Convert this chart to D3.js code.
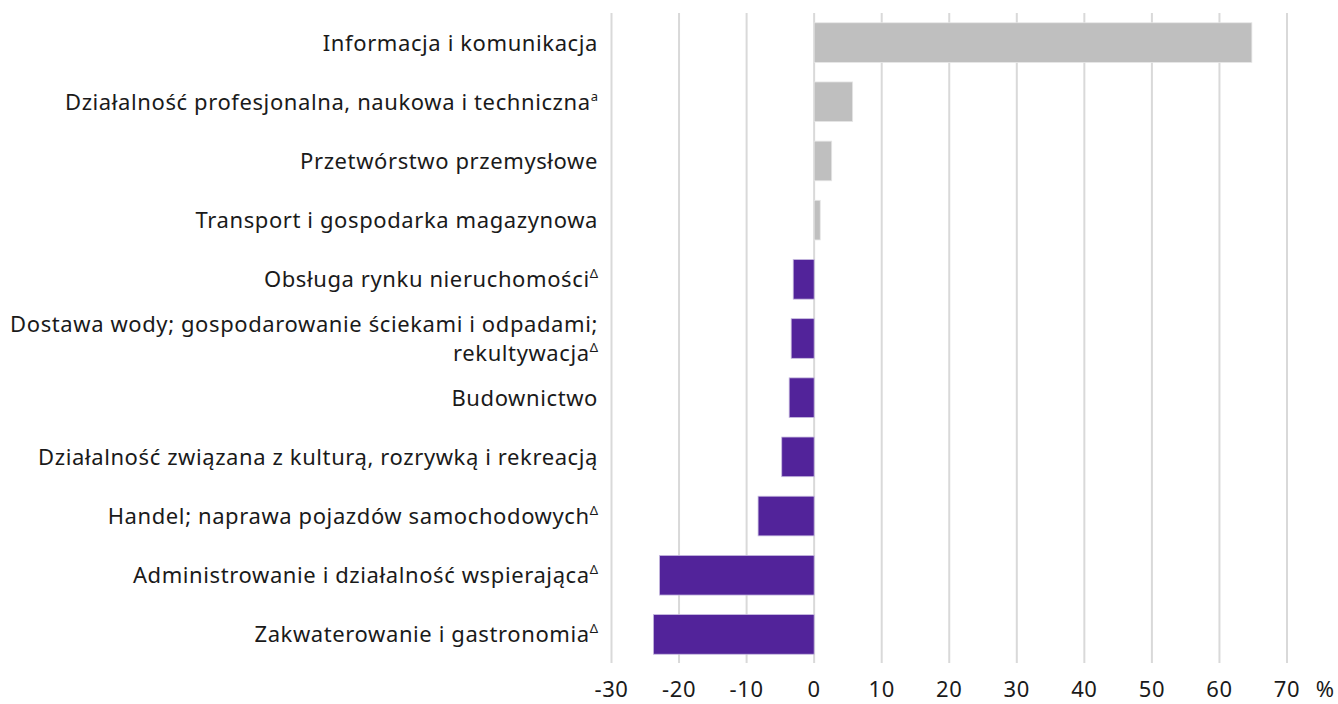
<!DOCTYPE html>
<html><head><meta charset="utf-8">
<script src="https://cdn.jsdelivr.net/npm/d3@7"></script>
<style>body{margin:0;background:#fff}text{font-family:"Noto Sans",sans-serif;fill:#1a1a1a}</style>
</head><body><svg id="c" width="1338" height="704"></svg>
<script>
const categories = [
  ["Informacja i komunikacja"],
  ["Działalność profesjonalna, naukowa i techniczna"],
  ["Przetwórstwo przemysłowe"],
  ["Transport i gospodarka magazynowa"],
  ["Obsługa rynku nieruchomości"],
  ["Dostawa wody; gospodarowanie ściekami i odpadami;", "rekultywacja"],
  ["Budownictwo"],
  ["Działalność związana z kulturą, rozrywką i rekreacją"],
  ["Handel; naprawa pojazdów samochodowych"],
  ["Administrowanie i działalność wspierająca"],
  ["Zakwaterowanie i gastronomia"]
];
const superscripts = ["", "a", "", "", "Δ", "Δ", "", "", "Δ", "Δ", "Δ"];
const values = [64.8, 5.7, 2.6, 0.9, -3.1, -3.4, -3.7, -4.8, -8.3, -22.9, -23.8];
const ticks = [-30, -20, -10, 0, 10, 20, 30, 40, 50, 60, 70];

const svg = d3.select("#c");
const x = d3.scaleLinear().domain([-30, 70]).range([611.5, 1287]);
const y = d3.scaleBand().domain(d3.range(categories.length)).range([13, 664]).paddingInner(0.33).paddingOuter(0.165);

svg.append("g").selectAll("line").data(ticks).join("line")
  .attr("x1", d => x(d)).attr("x2", d => x(d))
  .attr("y1", 13).attr("y2", 663)
  .attr("stroke", "#d9d9d9").attr("stroke-width", 2);

svg.append("g").selectAll("rect").data(values).join("rect")
  .attr("x", d => x(Math.min(0, d)))
  .attr("width", d => Math.abs(x(d) - x(0)))
  .attr("y", (d, i) => y(i))
  .attr("height", y.bandwidth())
  .attr("fill", d => d >= 0 ? "#bfbfbf" : "#52239a")
  .attr("stroke", d => d >= 0 ? "#e6e6e6" : "#c8bce0").attr("stroke-width", 0.8);

const fs = 22;
const lab = svg.append("g").selectAll("text").data(categories).join("text")
  .attr("text-anchor", "end").attr("font-size", fs).attr("letter-spacing", 0.6)
  .attr("x", 598)
  .attr("y", (d, i) => y(i) + y.bandwidth() / 2 + 8 - (d.length - 1) * 14.5);
lab.each(function(d, i) {
  const t = d3.select(this);
  d.forEach((line, k) => {
    t.append("tspan").attr("x", 598).attr("dy", k === 0 ? 0 : 29).text(line);
  });
  if (superscripts[i]) {
    t.append("tspan").attr("font-size", 13).attr("dy", -9).attr("letter-spacing", 0).text(superscripts[i]);
  }
});

const ax = svg.append("g");
ax.selectAll("text").data(ticks).join("text")
  .attr("x", d => x(d)).attr("y", 697).attr("text-anchor", "middle").attr("font-size", fs).attr("letter-spacing", 0.6)
  .text(d => d < 0 ? "-" + Math.abs(d) : d);
ax.append("text").attr("x", 1325).attr("y", 697).attr("text-anchor", "middle").attr("font-size", fs).text("%");
</script></body></html>
